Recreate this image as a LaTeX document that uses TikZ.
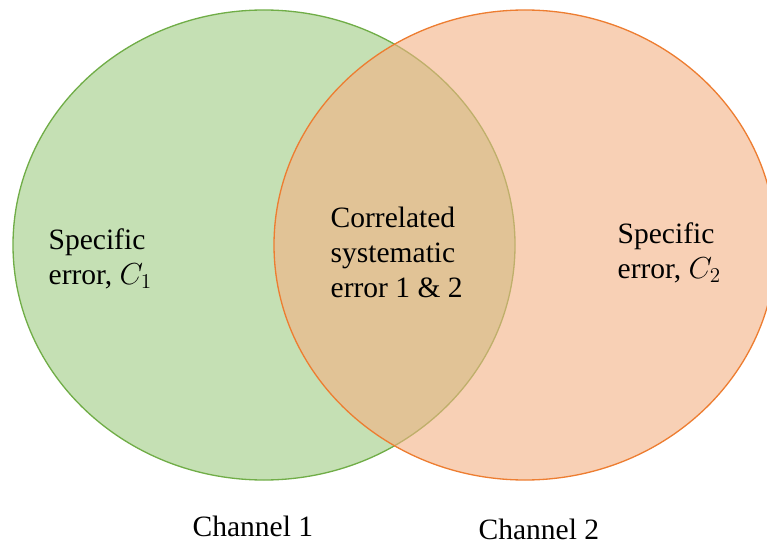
\documentclass[tikz,border=0pt]{standalone}
\usepackage{fontspec}
\setmainfont{LiberationSerif}[Extension=.ttf, UprightFont=*-Regular,
  ItalicFont=*-Italic, BoldFont=*-Bold, BoldItalicFont=*-BoldItalic]
\definecolor{greenfill}{HTML}{C5E0B4}
\definecolor{greenline}{HTML}{70AD47}
\definecolor{orangefill}{HTML}{F4B183}
\definecolor{orangeline}{HTML}{ED7D31}

\begin{document}
\begin{tikzpicture}[x=0.02cm, y=-0.02cm, line width=0.75pt,
  lbl/.style={inner sep=0pt, align=left, anchor=base west,
    font=\fontsize{16.8}{19.9}\selectfont}]

\useasboundingbox (0,0) rectangle (767,544);

% the two channels
\draw[greenline, fill=greenfill] (264,245) ellipse [x radius=251, y radius=235];
\draw[orangeline, fill=orangefill, fill opacity=0.6] (525,245) ellipse [x radius=251, y radius=235];

\node[lbl] (spec1) at (48,284) {Specific\\error, $C_1$};
\node[lbl] (corr) at (330,297) {Correlated\\systematic\\error 1 \& 2};
\node[lbl] (spec2) at (617,278) {Specific\\error, $C_2$};

\node[lbl] (ch1) at (192,536) {Channel 1};
\node[lbl] (ch2) at (478,539) {Channel 2};

\end{tikzpicture}
\end{document}
